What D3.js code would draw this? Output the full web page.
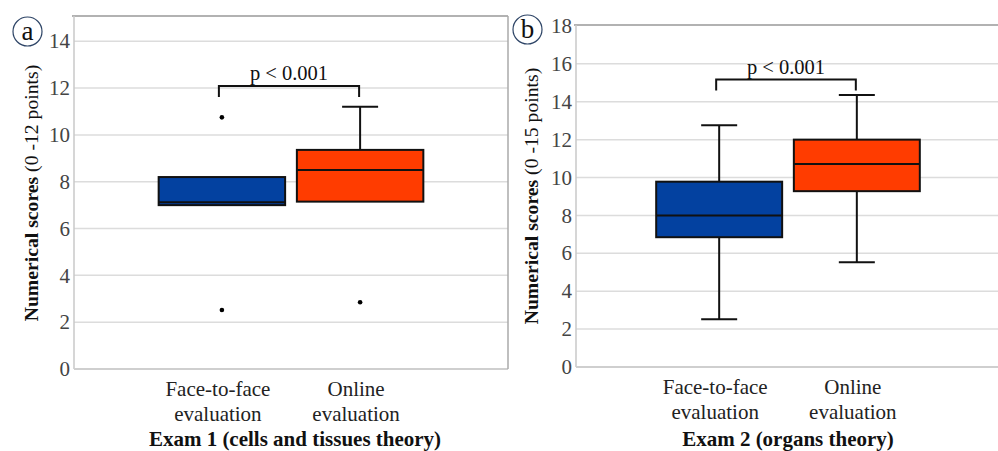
<!DOCTYPE html>
<html>
<head>
<meta charset="utf-8">
<script src="https://cdn.jsdelivr.net/npm/d3@7"></script>
<style>
  body { margin: 0; background: #fff; }
  text { font-family: 'Liberation Serif', 'DejaVu Serif', serif; }
  .tick-label { fill: #444; font-size: 21px; }
  .cat-label { fill: #222; font-size: 21px; }
  .grid line { stroke: #dcdcdc; stroke-width: 1.5; }
</style>
</head>
<body>
<svg id="chart" width="998" height="451"></svg>
<script>
// Categories and tick labels
const groups = ['Face-to-face evaluation', 'Online evaluation'];
const groupLines = [['Face-to-face', 'evaluation'], ['Online', 'evaluation']];
const colors = ['#0341a0', '#ff3c00'];

// Exam 1 (cells and tissues theory), 0-12 points
const exam1Ticks = [0, 2, 4, 6, 8, 10, 12, 14];
const exam1Q1 = [7.0, 7.15];
const exam1Median = [7.12, 8.5];
const exam1Q3 = [8.2, 9.36];
const exam1Low = [7.0, 7.15];
const exam1High = [8.2, 11.2];
const exam1Outliers = [[10.75, 2.52], [2.85]];

// Exam 2 (organs theory), 0-15 points
const exam2Ticks = [0, 2, 4, 6, 8, 10, 12, 14, 16, 18];
const exam2Q1 = [6.85, 9.28];
const exam2Median = [8.0, 10.72];
const exam2Q3 = [9.78, 12.0];
const exam2Low = [2.52, 5.53];
const exam2High = [12.76, 14.35];
const exam2Outliers = [[], []];

const svg = d3.select('#chart');

function drawPanel(p) {
    const g = svg.append('g');

    const y = d3.scaleLinear().domain(p.yDomain).range([p.bottom, p.top]);
    const x = d3.scalePoint().domain(groups).range([p.left, p.right]).padding(p.padding);

    // Horizontal grid
    g.append('g')
        .attr('class', 'grid')
        .selectAll('line')
        .data(p.ticks.filter(t => t > 0 && y(t) > p.top + 2))
        .enter().append('line')
        .attr('x1', p.left).attr('x2', p.right)
        .attr('y1', d => y(d)).attr('y2', d => y(d));

    // Frame
    g.append('line')
        .attr('x1', p.left - 2).attr('x2', p.right)
        .attr('y1', p.top).attr('y2', p.top)
        .attr('stroke', '#999').attr('stroke-width', 1.5);
    g.append('line')
        .attr('x1', p.left).attr('x2', p.left)
        .attr('y1', p.top).attr('y2', p.bottom)
        .attr('stroke', '#c8c8c8').attr('stroke-width', 1.5);
    g.append('line')
        .attr('x1', p.left).attr('x2', p.right)
        .attr('y1', p.bottom).attr('y2', p.bottom)
        .attr('stroke', '#cfcfcf').attr('stroke-width', 2);
    if (p.rightBorder) {
        g.append('line')
            .attr('x1', p.right).attr('x2', p.right)
            .attr('y1', p.top).attr('y2', p.bottom)
            .attr('stroke', '#aaa').attr('stroke-width', 1.5);
    }

    // Y tick labels
    g.selectAll('.tick-label')
        .data(p.ticks)
        .enter().append('text')
        .attr('class', 'tick-label')
        .attr('x', p.left - 4)
        .attr('y', d => y(d))
        .attr('dy', '0.34em')
        .attr('text-anchor', 'end')
        .text(d => d);

    // Boxes
    const bw = x.step() * 0.915;
    const cap = 36;
    const box = g.selectAll('.box')
        .data(groups.map((name, i) => ({
            name, i,
            q1: p.q1[i], med: p.median[i], q3: p.q3[i],
            lo: p.low[i], hi: p.high[i], out: p.outliers[i]
        })))
        .enter().append('g')
        .attr('class', 'box')
        .attr('transform', d => `translate(${x(d.name)},0)`);

    // Whiskers (only where they stick out of the box)
    box.filter(d => d.hi > d.q3).append('line')
        .attr('x1', 0).attr('x2', 0)
        .attr('y1', d => y(d.q3)).attr('y2', d => y(d.hi))
        .attr('stroke', '#111').attr('stroke-width', 2);
    box.filter(d => d.hi > d.q3).append('line')
        .attr('x1', -cap / 2).attr('x2', cap / 2)
        .attr('y1', d => y(d.hi)).attr('y2', d => y(d.hi))
        .attr('stroke', '#111').attr('stroke-width', 2);
    box.filter(d => d.lo < d.q1).append('line')
        .attr('x1', 0).attr('x2', 0)
        .attr('y1', d => y(d.q1)).attr('y2', d => y(d.lo))
        .attr('stroke', '#111').attr('stroke-width', 2);
    box.filter(d => d.lo < d.q1).append('line')
        .attr('x1', -cap / 2).attr('x2', cap / 2)
        .attr('y1', d => y(d.lo)).attr('y2', d => y(d.lo))
        .attr('stroke', '#111').attr('stroke-width', 2);

    box.append('rect')
        .attr('x', -bw / 2)
        .attr('width', bw)
        .attr('y', d => y(d.q3))
        .attr('height', d => y(d.q1) - y(d.q3))
        .attr('fill', d => colors[d.i])
        .attr('stroke', '#111')
        .attr('stroke-width', 2);

    box.append('line')
        .attr('x1', -bw / 2).attr('x2', bw / 2)
        .attr('y1', d => y(d.med)).attr('y2', d => y(d.med))
        .attr('stroke', '#111').attr('stroke-width', 2);

    box.selectAll('circle')
        .data(d => d.out)
        .enter().append('circle')
        .attr('cx', 0)
        .attr('cy', v => y(v))
        .attr('r', 2.3)
        .attr('fill', '#000');

    // Significance bracket
    const bx0 = x(groups[0]) - 3, bx1 = x(groups[1]) - 1;
    g.append('path')
        .attr('d', `M${bx0},${p.bracketTop + 11}V${p.bracketTop}H${bx1}V${p.bracketTop + 11}`)
        .attr('fill', 'none')
        .attr('stroke', '#111')
        .attr('stroke-width', 2);
    g.append('text')
        .attr('x', (bx0 + bx1) / 2)
        .attr('y', p.bracketTop - 6)
        .attr('text-anchor', 'middle')
        .attr('fill', '#111')
        .attr('font-size', '20.5px')
        .text('p < 0.001');

    // Category labels
    groups.forEach((name, i) => {
        const t = g.append('text')
            .attr('class', 'cat-label')
            .attr('text-anchor', 'middle')
            .attr('x', x(name) - 4)
            .attr('y', p.bottom + 27);
        groupLines[i].forEach((line, j) => {
            t.append('tspan')
                .attr('x', x(name) - 4)
                .attr('dy', j === 0 ? 0 : 25)
                .text(line);
        });
    });

    // X title
    g.append('text')
        .attr('x', p.xTitleX)
        .attr('y', 446)
        .attr('text-anchor', 'middle')
        .attr('font-weight', 'bold')
        .attr('font-size', '21px')
        .attr('fill', '#111')
        .text(p.xTitle);

    // Y title
    const yt = g.append('text')
        .attr('transform', `translate(${p.yTitleX},${p.yTitleY}) rotate(-90)`)
        .attr('text-anchor', 'middle')
        .attr('font-size', '19.7px')
        .attr('fill', '#111');
    yt.append('tspan').attr('font-weight', 'bold').text('Numerical scores ');
    yt.append('tspan').text(p.yUnit);

    // Panel letter
    g.append('circle')
        .attr('cx', p.letterX).attr('cy', p.letterY)
        .attr('r', 14.5)
        .attr('fill', 'none')
        .attr('stroke', '#2d4466')
        .attr('stroke-width', 1.2);
    g.append('text')
        .attr('x', p.letterX).attr('y', p.letterY)
        .attr('dy', '0.33em')
        .attr('text-anchor', 'middle')
        .attr('font-size', '27px')
        .attr('fill', '#111')
        .text(p.letter);
}

drawPanel({
    letter: 'a', letterX: 27.5, letterY: 31.5,
    left: 74, right: 508, top: 16, bottom: 369, padding: 1.07,
    yDomain: [0, 15.08], ticks: exam1Ticks, rightBorder: true,
    q1: exam1Q1, median: exam1Median, q3: exam1Q3,
    low: exam1Low, high: exam1High, outliers: exam1Outliers,
    bracketTop: 86,
    xTitle: 'Exam 1 (cells and tissues theory)', xTitleX: 295,
    yUnit: '(0 -12 points)', yTitleX: 38, yTitleY: 193
});

drawPanel({
    letter: 'b', letterX: 527.5, letterY: 29.5,
    left: 576, right: 1000, top: 25, bottom: 367, padding: 1.04,
    yDomain: [0, 18.05], ticks: exam2Ticks, rightBorder: false,
    q1: exam2Q1, median: exam2Median, q3: exam2Q3,
    low: exam2Low, high: exam2High, outliers: exam2Outliers,
    bracketTop: 79.5,
    xTitle: 'Exam 2 (organs theory)', xTitleX: 788,
    yUnit: '(0 -15 points)', yTitleX: 538, yTitleY: 196
});
</script>
</body>
</html>
